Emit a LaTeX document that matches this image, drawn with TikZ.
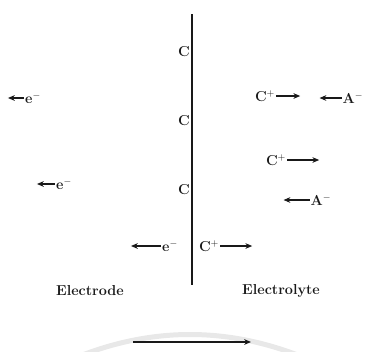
\documentclass[tikz,border=0pt]{standalone}
\usepackage{amsmath}
\usetikzlibrary{arrows.meta,positioning}
\definecolor{ink}{RGB}{25,25,25}
\definecolor{haze}{RGB}{232,232,232}
\tikzset{
  charge/.style={font=\bfseries\Large, text=ink, inner sep=1pt},
  side/.style={font=\bfseries\Large, text=ink, inner sep=1pt},
  flow/.style={-{Stealth[length=2.4mm,width=2mm]}, line width=1.1pt, draw=ink},
  wall/.style={line width=1.4pt, draw=ink}
}

\begin{document}
\begin{tikzpicture}[x=1pt,y=-1pt,node distance=4pt]
\useasboundingbox (0,0) rectangle (377,351);
% faint background band
\draw[haze, line width=5pt] (70,360) .. controls (150,326) and (230,326) .. (310,360);
% interface
\coordinate (top) at (192,14);
\coordinate (bot) at (192,285);
\draw[wall] (top) -- (bot);
\node[charge,anchor=east] (c1) at (191,52) {C};
\node[charge,anchor=east] (c2) at (191,121) {C};
\node[charge,anchor=east] (c3) at (191,190) {C};
% electrode side
\node[charge] (e1) at (33,98) {e$^{-}$};
\coordinate[left=16pt of e1.west] (e1end);
\draw[flow] (e1.west) -- (e1end);
\node[charge] (e2) at (64,184) {e$^{-}$};
\coordinate[left=18pt of e2.west] (e2end);
\draw[flow] (e2.west) -- (e2end);
\node[charge] (e3) at (170,246) {e$^{-}$};
\coordinate[left=30pt of e3.west] (e3end);
\draw[flow] (e3.west) -- (e3end);
% electrolyte side
\node[charge] (k1) at (265,96) {C$^{+}$};
\coordinate[right=24pt of k1.east] (k1end);
\draw[flow] (k1.east) -- (k1end);
\node[charge] (a1) at (353,98) {A$^{-}$};
\coordinate[left=22pt of a1.west] (a1end);
\draw[flow] (a1.west) -- (a1end);
\node[charge] (k2) at (276,160) {C$^{+}$};
\coordinate[right=32pt of k2.east] (k2end);
\draw[flow] (k2.east) -- (k2end);
\node[charge] (a2) at (321,200) {A$^{-}$};
\coordinate[left=26pt of a2.west] (a2end);
\draw[flow] (a2.west) -- (a2end);
\node[charge] (k3) at (209,246) {C$^{+}$};
\coordinate[right=32pt of k3.east] (k3end);
\draw[flow] (k3.east) -- (k3end);
% labels
\node[side] (electrode) at (90,291) {Electrode};
\node[side] (electrolyte) at (281,291) {Electrolyte};
\coordinate (dstart) at (133,342);
\coordinate (dend) at (251,342);
\draw[flow, line width=1.4pt] (dstart) -- (dend);
\end{tikzpicture}
\end{document}
